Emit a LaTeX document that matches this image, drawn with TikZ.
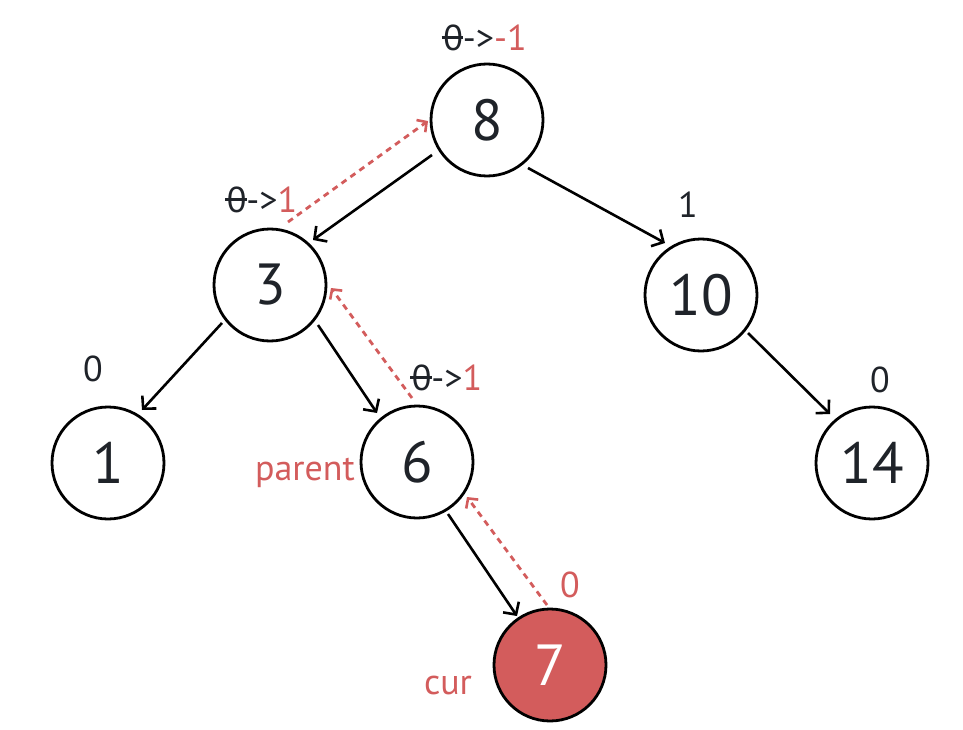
\documentclass[tikz,border=0pt]{standalone}
\usepackage{fontspec}
\setmainfont{PT Sans}
\usetikzlibrary{arrows.meta,calc}
\definecolor{myred}{RGB}{211,92,92}
\definecolor{ink}{RGB}{31,35,41}
\newcommand{\szero}{\makebox[0pt][l]{\hspace*{-0.05em}\raisebox{0.33em}{\rule{0.6em}{0.07em}}}0}
\begin{document}
\begin{tikzpicture}[x=1pt,y=-1pt,
 tn/.style={circle,draw=black,line width=2.8pt,minimum size=112pt,inner sep=0pt,font=\fontsize{58}{62}\selectfont,text=ink},
 lbl/.style={font=\fontsize{36}{40}\selectfont,text=ink,inner sep=0pt},
 rlbl/.style={lbl,text=myred},
 edge/.style={line width=2.6pt,-{Straight Barb[length=9pt,width=19pt,line width=2.6pt]}},
 back/.style={myred,line width=2.8pt,dash pattern=on 6pt off 5pt,-{Straight Barb[length=7pt,width=15pt,line width=2.6pt]}},
]
\useasboundingbox (0,0) rectangle (963,730);
\node[tn] (n8) at (487,120) {8};
\node[tn] (n3) at (270,285) {3};
\node[tn] (n10) at (701,295) {10};
\node[tn] (n1) at (108,463) {1};
\node[tn] (n6) at (417,462) {6};
\node[tn] (n14) at (872,463) {14};
\node[tn,fill=myred,text=white] (n7) at (550,665) {7};

\draw[edge] ($(n8)+(-55,35)$) -- ($(n3)+(43,-45)$);
\draw[edge] ($(n8)+(41,48)$) -- ($(n10)+(-36,-52)$);
\draw[edge] ($(n3)+(-48,38)$) -- ($(n1)+(34,-53)$);
\draw[edge] ($(n3)+(48,40)$) -- ($(n6)+(-40,-49)$);
\draw[edge] ($(n10)+(47,38)$) -- ($(n14)+(-42,-49)$);
\draw[edge] ($(n6)+(31,52)$) -- ($(n7)+(-33,-49)$);

\draw[back] ($(n3)+(18,-63)$) -- ($(n8)+(-59,1)$);
\draw[back] ($(n6)+(-5,-64)$) -- ($(n3)+(61,3)$);
\draw[back] ($(n7)+(-3,-60)$) -- ($(n6)+(50,35)$);

\node[lbl] (l8) at (485,38) {\szero->\textcolor{myred}{-1}};
\node[lbl] (l3) at (262,200) {\szero->\textcolor{myred}{1}};
\node[lbl] (l10) at (688,205) {1};
\node[lbl] (l1) at (93,369) {0};
\node[lbl] (l6) at (447,378) {\szero->\textcolor{myred}{1}};
\node[lbl] (l14) at (880,380) {0};
\node[rlbl] (l7) at (570,585) {0};
\node[rlbl] (lp) at (305,473) {parent};
\node[rlbl] (lc) at (448,685) {cur};
\end{tikzpicture}
\end{document}
